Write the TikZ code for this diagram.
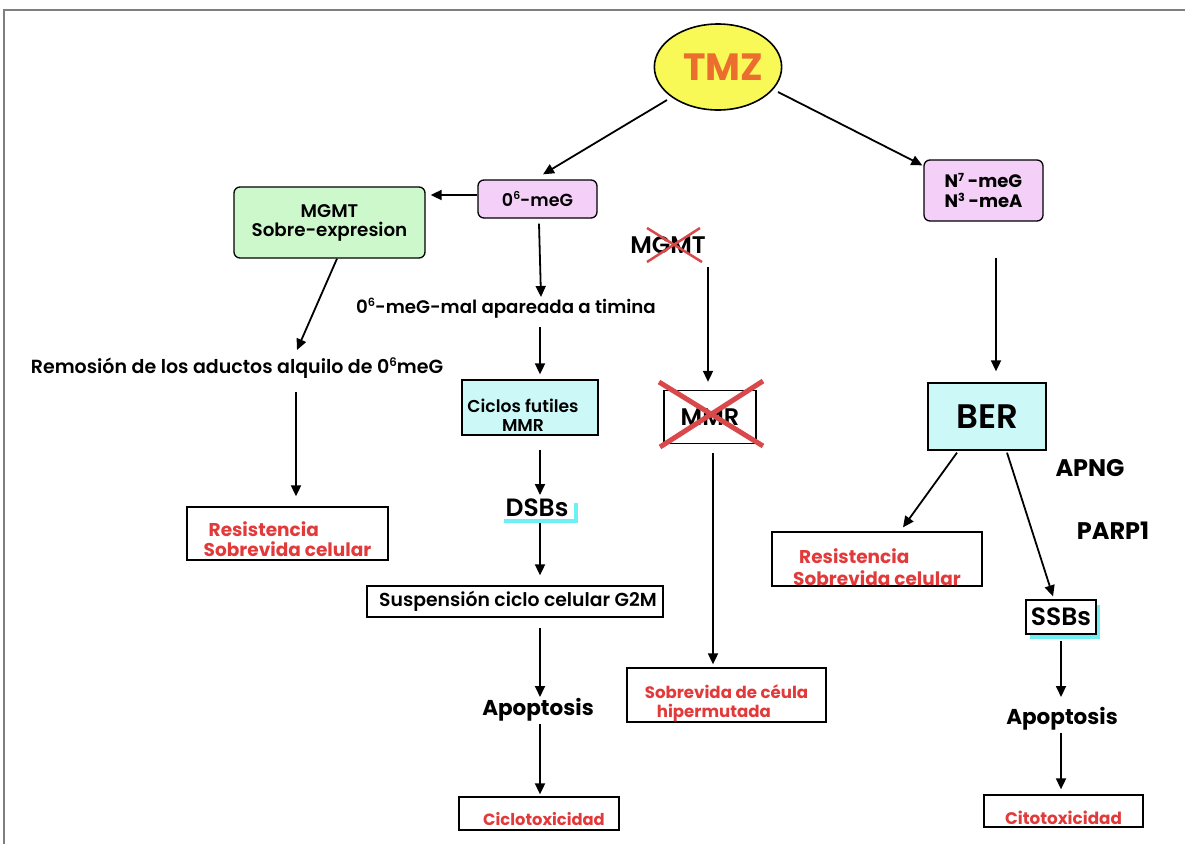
\documentclass[tikz,border=0pt]{standalone}
\usepackage{fontspec}
\setmainfont{Poppins}
\IfFontExistsTF{Poppins SemiBold}{\newfontfamily\popsemi{Poppins SemiBold}}{\newcommand\popsemi{\bfseries}}
\usetikzlibrary{arrows.meta,shapes.geometric,calc,shadows}

\definecolor{tmzyellow}{HTML}{F8F857}
\definecolor{tmzorange}{HTML}{EC6E2E}
\definecolor{lilac}{HTML}{F4D0F8}
\definecolor{mint}{HTML}{CCF8CC}
\definecolor{ice}{HTML}{CCF8F8}
\definecolor{aqua}{HTML}{6EEFF4}
\definecolor{alert}{HTML}{E23A3A}
\definecolor{strike}{HTML}{D9484B}
\definecolor{framegray}{HTML}{7F7F7F}

% small raised figure for the methyl positions
\newcommand{\pos}[1]{\raisebox{0.36em}{\fontsize{0.62em}{0.62em}\selectfont #1}}
% text lowered inside its box without changing the box size
\newcommand{\lowered}[2]{\raisebox{-#1}[0pt][0pt]{#2}}

\begin{document}
\begin{tikzpicture}[x=1pt,y=-1pt,
  box/.style={draw=black, line width=1.3pt, inner sep=0pt},
  roundbox/.style={box, rounded corners=6pt},
  lilacbox/.style={roundbox, fill=lilac},
  mintbox/.style={roundbox, fill=mint},
  icebox/.style={box, fill=ice},
  plainbox/.style={box, fill=white},
  txt/.style={inner sep=0pt, align=center},
  semi/.style={font=\popsemi\fontsize{#1}{19}\selectfont},
  heavy/.style={font=\bfseries\fontsize{#1}{19}\selectfont},
  redtxt/.style={text=alert, font=\bfseries\fontsize{#1}{18.5}\selectfont},
  arr/.style={line width=1.8pt, -{Triangle[length=11pt,width=10pt]}},
  strikeline/.style={strike, line width=#1},
]
\useasboundingbox (0,0) rectangle (1185,844);

% page frame (top and left edges only)
\draw[framegray, line width=1.5pt] (1185,10) -- (4,10) -- (4,844);

% ---- top ----
\node[ellipse, draw=black, line width=1.6pt, fill=tmzyellow, minimum width=117pt,
      minimum height=86pt, inner sep=0pt, text=tmzorange,
      font=\bfseries\fontsize{38}{38}\selectfont] (tmz) at (718,67) {\hspace*{10pt}TMZ};

% ---- left branch ----
\node[lilacbox, minimum width=119pt, minimum height=38pt, semi=17.5] (o6) at (537.5,199) {0\pos{6}-meG};
\node[mintbox, minimum width=191pt, minimum height=71pt, semi=18.3, align=center] (mgmtbox) at (329.5,222.5) {MGMT\\Sobre-expresion};
\node[txt, semi=19] (remo) at (237,368) {Remosión de los aductos alquilo de 0\pos{6}meG};
\node[plainbox, minimum width=201pt, minimum height=53pt, redtxt=18.5] (res1) at (287.5,533.5)
  {\lowered{12.5pt}{\begin{tabular}{@{}l@{}}\hspace*{5pt}Resistencia\\Sobrevida celular\end{tabular}}};

\node[txt, semi=18.2] (mal) at (506,308) {0\pos{6}-meG-mal apareada a timina};
\node[icebox, minimum width=136pt, minimum height=55pt, semi=17.2] (ciclos) at (530,407.5)
  {\lowered{15pt}{\begin{tabular}{@{}c@{}}Ciclos futiles\\MMR\end{tabular}}\hspace*{14pt}};
\node[txt, semi=25] (dsbs) at (537,508) {DSBs};
\node[plainbox, minimum width=296pt, minimum height=31pt, semi=18.8] (susp) at (515,601.5) {\hspace*{6pt}Suspensión ciclo celular G2M};
\node[txt, heavy=21.5] (apo1) at (538,710) {Apoptosis};
\node[plainbox, minimum width=160pt, minimum height=33pt, redtxt=16.3] (ciclo) at (539,813.5) {\lowered{12pt}{\hspace*{10pt}Ciclotoxicidad}};

% ---- middle branch ----
\node[txt, semi=24] (mgmtx) at (668,245) {MGMT};
\node[plainbox, minimum width=92pt, minimum height=53pt, semi=24] (mmr) at (710,417) {MMR};
\node[plainbox, minimum width=199pt, minimum height=54pt, redtxt=16.6] (hiper) at (726.5,695)
  {\lowered{13.5pt}{\begin{tabular}{@{}l@{}}Sobrevida de céula\\\hspace*{12pt}hipermutada\end{tabular}}};

% ---- right branch ----
\node[lilacbox, minimum width=119pt, minimum height=61pt, font=\bfseries\fontsize{18}{20}\selectfont, align=left] (n7) at (983.5,190.5)
  {N\pos{7} -meG\\N\pos{3} -meA};
\node[icebox, minimum width=118pt, minimum height=67pt, semi=34] (ber) at (987,416.5) {BER};
\node[txt, heavy=24] (apng) at (1090,468) {APNG};
\node[txt, heavy=24] (parp) at (1113,531) {PARP1};
\node[plainbox, minimum width=210pt, minimum height=54pt, redtxt=18.5] (res2) at (877,559)
  {\lowered{15pt}{\begin{tabular}{@{}l@{}}\hspace*{6pt}Resistencia\\[2pt]Sobrevida celular\end{tabular}}};
\node[plainbox, minimum width=70pt, minimum height=34pt, semi=25,
      drop shadow={shadow xshift=4pt, shadow yshift=-5pt, fill=aqua, opacity=1}] (ssbs) at (1061,617) {SSBs};
\node[txt, heavy=21.5] (apo2) at (1062,719) {Apoptosis};
\node[plainbox, minimum width=159pt, minimum height=32pt, redtxt=16.8] (cito) at (1063.5,811) {\lowered{13pt}{Citotoxicidad}};

% accent under DSBs
\draw[aqua, line width=4pt] ($(dsbs.center)+(-33,13)$) -- ($(dsbs.center)+(39,13)$) -- ($(dsbs.center)+(39,-5)$);

% strike-throughs
\draw[strikeline=2.5pt] ($(mgmtx.center)+(-21,-17)$) -- ($(mgmtx.center)+(34,17)$);
\draw[strikeline=2.5pt] ($(mgmtx.center)+(32,-17)$) -- ($(mgmtx.center)+(-21,17)$);
\draw[strikeline=5pt] ($(mmr.center)+(-51,-35)$) -- ($(mmr.center)+(53,29)$);
\draw[strikeline=5pt] ($(mmr.center)+(53,-36)$) -- ($(mmr.center)+(-50,30)$);

% ---- connectors ----
\draw[arr] ($(tmz.center)+(-51,33)$) -- ($(o6.north)+(5.5,-5)$);
\draw[arr] ($(tmz.center)+(60,25)$) -- ($(n7.north west)+(-1,6)$);
\draw[arr] ($(o6.west)+(0,-4)$) -- ($(mgmtbox.east)+(5,-27.5)$);
\draw[arr] ($(mgmtbox.south)+(7.5,0)$) -- ($(remo.center)+(60,-18)$);
\draw[arr] ($(remo.center)+(59,24)$) -- ($(res1.north)+(8.5,-10)$);
\draw[arr] ($(o6.south)+(1.5,5)$) -- ($(mal.center)+(35,-11)$);
\draw[arr] ($(mal.center)+(34,19)$) -- ($(ciclos.north)+(10,-5)$);
\draw[arr] ($(ciclos.south)+(10,14)$) -- ($(dsbs.center)+(3,-13)$);
\draw[arr] ($(dsbs.center)+(3,15)$) -- ($(susp.north)+(25,-10)$);
\draw[arr] ($(susp.south)+(25,10)$) -- ($(apo1.center)+(2,-13)$);
\draw[arr] ($(apo1.center)+(2,14)$) -- ($(ciclo.north)+(1,-2)$);
\draw[arr] ($(mgmtx.center)+(40,22)$) -- ($(mmr.north)+(-2,-8)$);
\draw[arr] ($(mmr.south)+(3,9)$) -- ($(hiper.north)+(-13.5,-3)$);
\draw[arr] ($(n7.south)+(12.5,36)$) -- ($(ber.north)+(9,-11)$);
\draw[arr] ($(ber.south)+(-30,2)$) -- ($(res2.north)+(26,-4)$);
\draw[arr] ($(ber.south)+(20,2)$) -- ($(ssbs.north)+(-8,-3)$);
\draw[arr] ($(ssbs.south)+(0,6)$) -- ($(apo2.center)+(-1,-22)$);
\draw[arr] ($(apo2.center)+(-1,14)$) -- ($(cito.north)+(-2.5,-5)$);
\end{tikzpicture}
\end{document}
